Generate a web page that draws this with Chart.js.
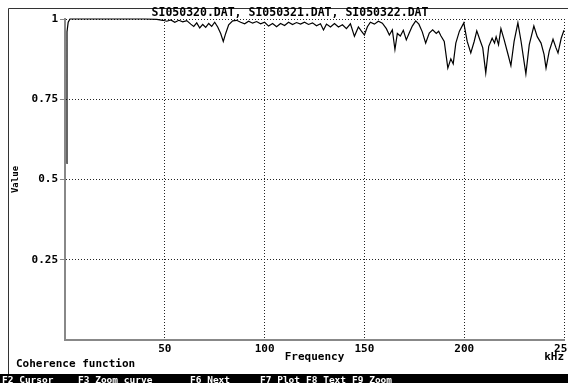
<!DOCTYPE html>
<html lang="en">
<head>
    <meta charset="UTF-8">
    <title>Coherence function</title>
    <script src="https://cdn.jsdelivr.net/npm/chart.js"></script>
    <style>
        html, body { margin: 0; padding: 0; background: #fff; overflow: hidden; }
    </style>
</head>
<body>
    <canvas id="coherence" width="568" height="383"></canvas>

    <script>
        // frequency (kHz) and coherence value
        const freq = [0.8, 1.0, 1.6, 2.5, 20, 40, 46, 49, 51, 53, 55, 57, 59, 61, 63, 64.5, 66, 67.5, 69, 70.5,
            72, 73.5, 75, 76.5, 78, 79.3, 80.5, 82, 84, 86, 88, 90, 92, 94, 96, 98, 100, 102, 104, 106,
            108, 110, 112, 114, 116, 118, 120, 122, 124, 126, 128, 129.5, 131, 133, 135, 137, 139, 141, 143, 145,
            147, 148.5, 150, 151.5, 153, 155, 157, 159, 161, 162.5, 164, 165.3, 166.5, 168, 169.5, 171, 172.5, 174, 175.7, 177.3,
            179, 180.7, 182.5, 184.2, 186, 187.2, 188.3, 190, 191.8, 193.3, 194.5, 195.8, 197.6, 199.8, 201.5, 203.3, 205, 206.3, 207.8, 209.3,
            210.8, 212.3, 214, 215.2, 216, 217.2, 218.4, 220, 221.9, 223.4, 225, 226.9, 228.5, 229.8, 230.9, 232.6, 234.9, 236.6, 238.5, 240,
            241, 242.6, 244.5, 246, 247, 248.6, 250];
        const coh = [0.55, 0.96, 0.99, 1.0, 1.0, 1.0, 0.999, 0.996, 0.993, 0.997, 0.99, 0.996, 0.991, 0.995, 0.984, 0.977, 0.988, 0.972, 0.983, 0.974,
            0.986, 0.977, 0.99, 0.975, 0.955, 0.93, 0.955, 0.982, 0.994, 0.996, 0.99, 0.985, 0.993, 0.987, 0.992, 0.985, 0.99, 0.978, 0.986, 0.976,
            0.986, 0.98, 0.99, 0.983, 0.989, 0.984, 0.99, 0.983, 0.988, 0.979, 0.985, 0.966, 0.984, 0.975, 0.986, 0.975, 0.982, 0.97, 0.985, 0.946,
            0.975, 0.962, 0.95, 0.976, 0.99, 0.984, 0.993, 0.987, 0.97, 0.95, 0.966, 0.905, 0.955, 0.947, 0.965, 0.935, 0.957, 0.978, 0.994, 0.984,
            0.96, 0.925, 0.956, 0.966, 0.955, 0.962, 0.948, 0.93, 0.847, 0.876, 0.86, 0.925, 0.962, 0.988, 0.93, 0.894, 0.93, 0.963, 0.936, 0.91,
            0.832, 0.915, 0.94, 0.925, 0.945, 0.92, 0.97, 0.936, 0.891, 0.855, 0.93, 0.988, 0.93, 0.875, 0.829, 0.92, 0.978, 0.945, 0.925, 0.89,
            0.847, 0.9, 0.937, 0.91, 0.894, 0.94, 0.965];

        const xTicks = [50, 100, 150, 200, 250];
        const yTicks = [0.25, 0.5, 0.75, 1];

        const plotTitle = 'SI050320.DAT, SI050321.DAT, SI050322.DAT';
        // function key bar: [text, x]
        const keys = [['F2 Cursor', 2], ['F3 Zoom curve', 78], ['F6 Next', 190], ['F7 Plot', 260], ['F8 Text', 306], ['F9 Zoom', 352]];

        const MONO = '"DejaVu Sans Mono", monospace';

        // frame, captions and key bar
        const screenDecor = {
            id: 'screenDecor',
            beforeDraw(chart) {
                const ctx = chart.ctx;
                ctx.save();
                ctx.fillStyle = '#fff';
                ctx.fillRect(0, 0, chart.width, chart.height);
                ctx.strokeStyle = '#333';
                ctx.lineWidth = 1;
                ctx.beginPath();
                ctx.moveTo(8.5, 374);
                ctx.lineTo(8.5, 8.5);
                ctx.lineTo(568, 8.5);
                ctx.stroke();
                ctx.restore();
            },
            afterDraw(chart) {
                const ctx = chart.ctx;
                const area = chart.chartArea;
                ctx.save();
                ctx.fillStyle = '#000';
                ctx.textBaseline = 'middle';
                ctx.font = 'bold 11.5px ' + MONO;
                ctx.textAlign = 'center';
                ctx.fillText(plotTitle, 290, 13.5);

                ctx.font = 'bold 11px ' + MONO;
                ctx.textAlign = 'right';
                ctx.fillText('kHz', area.right, 357);
                ctx.textAlign = 'left';
                ctx.fillText('Coherence function', 16, 364);

                ctx.fillRect(0, 374, chart.width, 9);
                ctx.fillStyle = '#fff';
                ctx.font = 'bold 9.5px ' + MONO;
                ctx.textBaseline = 'top';
                keys.forEach(([txt, x]) => ctx.fillText(txt, x, 376));
                ctx.restore();
            }
        };

        new Chart(document.getElementById('coherence'), {
            type: 'line',
            data: {
                datasets: [{
                    label: 'Coherence',
                    data: freq.map((f, i) => ({ x: f, y: coh[i] })),
                    borderColor: '#000',
                    borderWidth: 1.2,
                    pointRadius: 0,
                    tension: 0,
                    fill: false,
                    clip: false
                }]
            },
            options: {
                responsive: false,
                animation: false,
                events: [],
                layout: { padding: { top: 19, right: 4, bottom: 13, left: 0 } },
                plugins: {
                    legend: { display: false },
                    tooltip: { enabled: false }
                },
                scales: {
                    x: {
                        type: 'linear',
                        min: 0,
                        max: 250,
                        afterBuildTicks: scale => { scale.ticks = [0, ...xTicks].map(v => ({ value: v })); },
                        afterFit: scale => { scale.height = 30; scale.paddingLeft = 0; scale.paddingRight = 0; },
                        ticks: {
                            autoSkip: false,
                            maxRotation: 0,
                            padding: 3,
                            color: '#000',
                            font: { family: MONO, size: 11, weight: 'bold' },
                            callback: v => (v === 0 ? '' : v)
                        },
                        grid: { color: '#222', lineWidth: 1, drawTicks: false },
                        border: { color: '#888', width: 2, dash: [1, 2] },
                        title: {
                            display: true,
                            text: 'Frequency',
                            color: '#000',
                            font: { family: MONO, size: 11, weight: 'bold' },
                            padding: { top: 0, bottom: 6 }
                        }
                    },
                    y: {
                        min: 0,
                        max: 1,
                        afterBuildTicks: scale => { scale.ticks = [0, ...yTicks].map(v => ({ value: v })); },
                        afterFit: scale => { scale.width = 65; scale.paddingTop = 0; scale.paddingBottom = 0; },
                        ticks: {
                            padding: 2,
                            color: '#000',
                            font: { family: MONO, size: 11, weight: 'bold' },
                            callback: v => (v === 0 ? '' : v)
                        },
                        grid: {
                            color: '#222',
                            lineWidth: 1,
                            tickLength: 5,
                            tickColor: ctx => (ctx.tick && ctx.tick.value === 0 ? 'rgba(0,0,0,0)' : '#888'),
                            tickBorderDash: []
                        },
                        border: { color: '#888', width: 2, dash: [1, 2] },
                        title: {
                            display: true,
                            text: 'Value',
                            color: '#000',
                            font: { family: MONO, size: 9, weight: 'bold' },
                            padding: { top: 10, bottom: 0 }
                        }
                    }
                }
            },
            plugins: [screenDecor]
        });
    </script>
</body>
</html>
